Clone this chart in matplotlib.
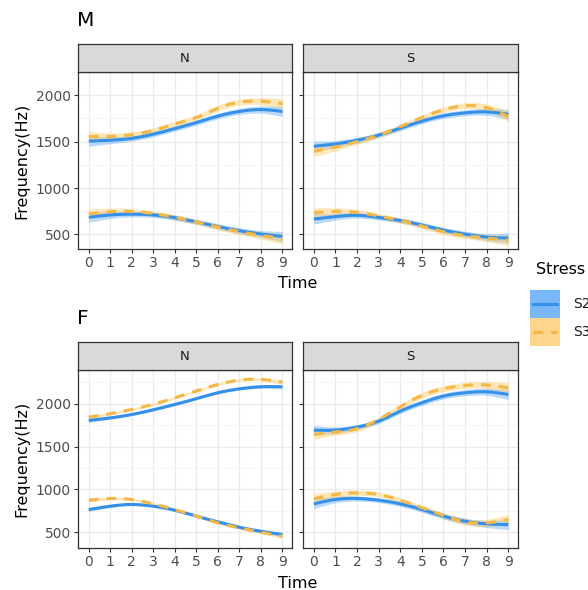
import numpy as np
import matplotlib
matplotlib.use("Agg")
import matplotlib.pyplot as plt
from matplotlib.patches import Rectangle

time = [0, 1, 2, 3, 4, 5, 6, 7, 8, 9]
groups = ["M", "F"]
facets = ["N", "S"]
stress = ["S2", "S3"]

# M group
M_N_S2_hi = [1505, 1515, 1535, 1580, 1640, 1705, 1775, 1825, 1845, 1825]
M_N_S3_hi = [1555, 1555, 1575, 1620, 1690, 1760, 1860, 1925, 1935, 1910]
M_N_S2_lo = [685, 710, 718, 710, 680, 635, 585, 540, 505, 478]
M_N_S3_lo = [720, 745, 748, 725, 685, 635, 580, 530, 490, 455]
M_S_S2_hi = [1450, 1475, 1515, 1570, 1645, 1720, 1778, 1810, 1820, 1794]
M_S_S3_hi = [1395, 1440, 1500, 1570, 1660, 1760, 1843, 1886, 1866, 1770]
M_S_S2_lo = [666, 692, 706, 683, 650, 601, 546, 503, 471, 461]
M_S_S3_lo = [732, 748, 738, 699, 650, 591, 529, 487, 461, 438]

# F group
F_N_S2_hi = [1805, 1835, 1875, 1930, 1992, 2060, 2129, 2175, 2199, 2199]
F_N_S3_hi = [1844, 1885, 1934, 1995, 2070, 2150, 2226, 2277, 2285, 2254]
F_N_S2_lo = [764, 803, 823, 803, 756, 686, 620, 557, 510, 471]
F_N_S3_lo = [873, 893, 881, 830, 764, 686, 608, 549, 499, 451]
F_S_S2_hi = [1692, 1692, 1727, 1797, 1914, 2012, 2090, 2129, 2140, 2109]
F_S_S3_hi = [1641, 1669, 1708, 1817, 1965, 2098, 2176, 2215, 2219, 2187]
F_S_S2_lo = [830, 881, 893, 873, 830, 764, 686, 627, 596, 588]
F_S_S3_lo = [889, 940, 959, 940, 873, 783, 694, 620, 608, 647]

# confidence half-widths (Hz)
ci_M = [55, 38, 30, 28, 28, 28, 30, 32, 38, 55]
ci_F_N = [22, 16, 14, 14, 14, 14, 14, 16, 18, 25]
ci_F_S = [55, 38, 30, 28, 30, 32, 34, 36, 42, 60]

y_ticks = [500, 1000, 1500, 2000]

data = {
    ("M", "N"): {"S2": [M_N_S2_hi, M_N_S2_lo], "S3": [M_N_S3_hi, M_N_S3_lo]},
    ("M", "S"): {"S2": [M_S_S2_hi, M_S_S2_lo], "S3": [M_S_S3_hi, M_S_S3_lo]},
    ("F", "N"): {"S2": [F_N_S2_hi, F_N_S2_lo], "S3": [F_N_S3_hi, F_N_S3_lo]},
    ("F", "S"): {"S2": [F_S_S2_hi, F_S_S2_lo], "S3": [F_S_S3_hi, F_S_S3_lo]},
}
ci = {("M", "N"): ci_M, ("M", "S"): ci_M, ("F", "N"): ci_F_N, ("F", "S"): ci_F_S}
ylims = {"M": (343, 2069), "F": (314, 2395)}

line_col = {"S2": "#3590EA", "S3": "#F4B846"}
fill_col = {"S2": "#64AEFB", "S3": "#FFC860"}
key_fill = {"S2": "#78B8F8", "S3": "#FFD48C"}


def smooth(x, y, n=200):
    x = np.asarray(x, float); y = np.asarray(y, float)
    k = len(x); h = np.diff(x)
    A = np.zeros((k, k)); b = np.zeros(k)
    A[0, 0] = 1; A[-1, -1] = 1
    for i in range(1, k - 1):
        A[i, i - 1] = h[i - 1]; A[i, i] = 2 * (h[i - 1] + h[i]); A[i, i + 1] = h[i]
        b[i] = 6 * ((y[i + 1] - y[i]) / h[i] - (y[i] - y[i - 1]) / h[i - 1])
    M = np.linalg.solve(A, b)
    xs = np.linspace(x[0], x[-1], n)
    idx = np.clip(np.searchsorted(x, xs) - 1, 0, k - 2)
    x0, x1 = x[idx], x[idx + 1]; hh = x1 - x0
    t1 = x1 - xs; t0 = xs - x0
    ys = (M[idx] * t1**3 + M[idx + 1] * t0**3) / (6 * hh) \
        + (y[idx] / hh - M[idx] * hh / 6) * t1 + (y[idx + 1] / hh - M[idx + 1] * hh / 6) * t0
    return xs, ys


W, H = 588, 590
fig = plt.figure(figsize=(W / 100, H / 100), dpi=100)
fig.patch.set_facecolor("white")


def fx(p): return p / W
def fy(p): return 1 - p / H


panel_x = {"N": (78, 292), "S": (303, 518)}
panel_y = {"M": (72, 249), "F": (370, 548)}
strip_h = 28
dark = "#333333"

for g in groups:
    for f in facets:
        x0, x1 = panel_x[f]; y0, y1 = panel_y[g]
        ax = fig.add_axes([fx(x0), fy(y1), (x1 - x0) / W, (y1 - y0) / H])
        ax.set_xlim(-0.5, 9.45)
        ax.set_ylim(*ylims[g])
        ax.set_xticks(time)
        ax.set_yticks(y_ticks)
        ax.set_yticks([750, 1250, 1750, 2250], minor=True)
        ax.grid(True, which="major", color="#EBEBEB", lw=1.0)
        ax.grid(True, which="minor", axis="y", color="#F3F3F3", lw=0.6)
        ax.set_axisbelow(True)
        ax.tick_params(axis="both", which="major", length=3, width=0.8, color=dark,
                       labelsize=10, labelcolor="#4D4D4D", pad=2)
        ax.tick_params(axis="y", which="minor", length=0)
        if f == "S":
            ax.set_yticklabels([])
        for s in ax.spines.values():
            s.set_color(dark); s.set_linewidth(0.9)
        band = ci[(g, f)]
        for st in stress:
            for series in data[(g, f)][st]:
                xs, ys = smooth(time, series)
                _, cs = smooth(time, band)
                ax.fill_between(xs, ys - cs, ys + cs, color=fill_col[st], alpha=0.45, lw=0)
        for st in stress:
            for series in data[(g, f)][st]:
                xs, ys = smooth(time, series)
                if st == "S2":
                    ax.plot(xs, ys, color=line_col[st], lw=2.2, solid_capstyle="butt")
                else:
                    ax.plot(xs, ys, color=line_col[st], lw=2.2, ls=(0, (3.2, 2.6)))
        # strip
        sax = fig.add_axes([fx(x0), fy(y0), (x1 - x0) / W, strip_h / H])
        sax.set_facecolor("#D9D9D9")
        sax.set_xticks([]); sax.set_yticks([])
        for s in sax.spines.values():
            s.set_color(dark); s.set_linewidth(0.9)
        sax.text(0.5, 0.5, f, ha="center", va="center", fontsize=9.5, color="#1A1A1A",
                 transform=sax.transAxes)
    # group title and axis labels
    y0, y1 = panel_y[g]
    fig.text(fx(77), fy(y0 - strip_h - 23), g, fontsize=14.5, ha="left", va="center", color="black")
    fig.text(fx(22), fy((y0 + y1) / 2), "Frequency(Hz)", rotation=90, fontsize=11.5,
             ha="center", va="center", color="black")
    fig.text(fx(298), fy(y1 + 35), "Time", fontsize=11.5, ha="center", va="center", color="black")

# legend
fig.text(fx(536), fy(270), "Stress", fontsize=11.5, ha="left", va="center", color="black")
for i, st in enumerate(stress):
    ky = 290 + i * 28
    fig.patches.append(Rectangle((fx(530), fy(ky + 28)), 30 / W, 28 / H, transform=fig.transFigure,
                                 facecolor=key_fill[st], edgecolor="none"))
    lx = [fx(533), fx(557)]
    lyv = [fy(ky + 14)] * 2
    if st == "S2":
        fig.add_artist(plt.Line2D(lx, lyv, color=line_col[st], lw=2.2, transform=fig.transFigure))
    else:
        fig.add_artist(plt.Line2D(lx, lyv, color=line_col[st], lw=2.2, ls=(0, (3.2, 2.6)),
                                  transform=fig.transFigure))
    fig.text(fx(573), fy(ky + 14), st, fontsize=10, ha="left", va="center", color="#1A1A1A")

fig.savefig("out.png", dpi=100, facecolor="white")
